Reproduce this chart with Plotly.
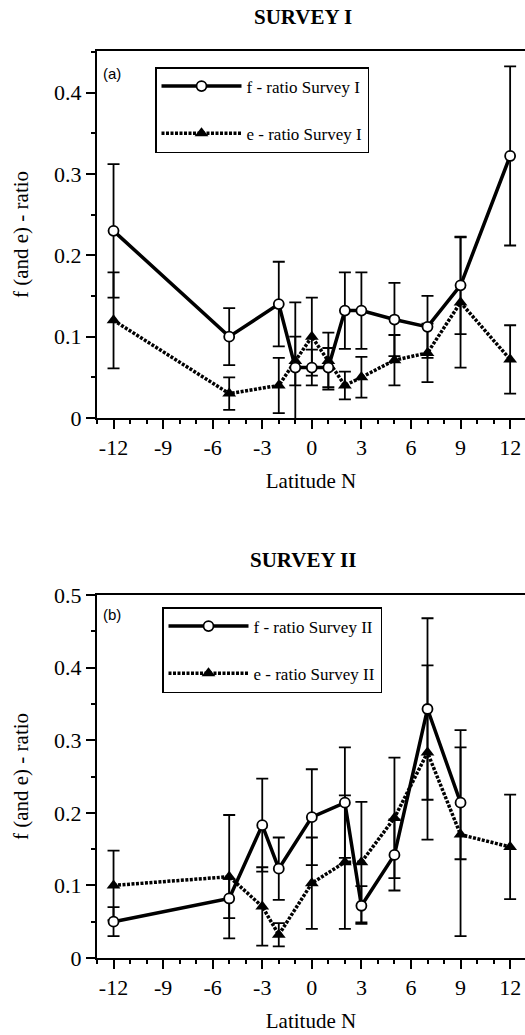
import plotly.graph_objects as go

# ---------------- Survey I ----------------
lat1 = [-12, -5, -2, -1, 0, 1, 2, 3, 5, 7, 9, 12]
f1 = [0.23, 0.10, 0.14, 0.062, 0.062, 0.062, 0.132, 0.132, 0.121, 0.112, 0.163, 0.322]
f1_err = [0.082, 0.035, 0.052, 0.08, 0.022, 0.024, 0.047, 0.047, 0.045, 0.038, 0.06, 0.11]
e1 = [0.12, 0.03, 0.04, 0.07, 0.10, 0.07, 0.04, 0.05, 0.071, 0.08, 0.142, 0.072]
e1_err = [0.059, 0.02, 0.034, 0.03, 0.048, 0.035, 0.017, 0.025, 0.031, 0.036, 0.08, 0.042]

# ---------------- Survey II ----------------
lat2_f = [-12, -5, -3, -2, 0, 2, 3, 5, 7, 9]
f2 = [0.05, 0.082, 0.183, 0.123, 0.194, 0.214, 0.072, 0.142, 0.343, 0.214]
f2_err_plus = [0.02, 0.027, 0.064, 0.043, 0.066, 0.076, 0.027, 0.049, 0.125, 0.10]
f2_err_minus = [0.02, 0.027, 0.064, 0.043, 0.066, 0.076, 0.025, 0.049, 0.125, 0.078]
lat2_e = [-12, -5, -3, -2, 0, 2, 3, 5, 7, 9, 12]
e2 = [0.10, 0.112, 0.071, 0.032, 0.103, 0.132, 0.132, 0.193, 0.283, 0.17, 0.153]
e2_err_plus = [0.048, 0.085, 0.054, 0.016, 0.063, 0.092, 0.083, 0.083, 0.12, 0.12, 0.072]
e2_err_minus = [0.048, 0.085, 0.054, 0.016, 0.063, 0.092, 0.083, 0.083, 0.12, 0.14, 0.072]

x_ticks = [-12, -9, -6, -3, 0, 3, 6, 9, 12]
x_ticktext = ["-12", "-9", "-6", "-3", "0", "3", "6", "9", "12"]
y1_ticks = [0, 0.1, 0.2, 0.3, 0.4]
y1_ticktext = ["0", "0.1", "0.2", "0.3", "0.4"]
y2_ticks = [0, 0.1, 0.2, 0.3, 0.4, 0.5]
y2_ticktext = ["0", "0.1", "0.2", "0.3", "0.4", "0.5"]
panel_titles = ["SURVEY I", "SURVEY II"]
panel_labels = ["(a)", "(b)"]
names = ["f - ratio Survey I", "e - ratio Survey I", "f - ratio Survey II", "e - ratio Survey II"]
x_title = "Latitude N"
y_title = "f (and e) - ratio"

W, H = 525, 1035
SERIF = "Times New Roman"

fig = go.Figure()

fig.add_trace(go.Scatter(
    x=lat1, y=e1, mode="lines+markers", name=names[1],
    line=dict(color="black", width=3.5, dash="3px,1.5px"),
    marker=dict(symbol="triangle-up", size=12, color="black"),
    error_y=dict(type="data", array=e1_err, color="black", thickness=1.8, width=6),
    xaxis="x", yaxis="y", legend="legend", legendgroup="e1", legendrank=2))
fig.add_trace(go.Scatter(
    x=lat1, y=f1, mode="lines+markers", name=names[0],
    line=dict(color="black", width=3.5),
    marker=dict(symbol="circle", size=10, color="white", line=dict(color="black", width=1.8)),
    error_y=dict(type="data", array=f1_err, color="black", thickness=1.8, width=6),
    xaxis="x", yaxis="y", legend="legend", legendgroup="f1", legendrank=1))
fig.add_trace(go.Scatter(
    x=lat2_e, y=e2, mode="lines+markers", name=names[3],
    line=dict(color="black", width=3.5, dash="3px,1.5px"),
    marker=dict(symbol="triangle-up", size=12, color="black"),
    error_y=dict(type="data", symmetric=False, array=e2_err_plus, arrayminus=e2_err_minus,
                 color="black", thickness=1.8, width=6),
    xaxis="x2", yaxis="y2", legend="legend2", legendgroup="e2", legendrank=2))
fig.add_trace(go.Scatter(
    x=lat2_f, y=f2, mode="lines+markers", name=names[2],
    line=dict(color="black", width=3.5),
    marker=dict(symbol="circle", size=10, color="white", line=dict(color="black", width=1.8)),
    error_y=dict(type="data", symmetric=False, array=f2_err_plus, arrayminus=f2_err_minus,
                 color="black", thickness=1.8, width=6),
    xaxis="x2", yaxis="y2", legend="legend2", legendgroup="f2", legendrank=1))

fig.update_layout(
    width=W, height=H, margin=dict(l=0, r=0, t=0, b=0),
    font=dict(family=SERIF, color="black"),
    paper_bgcolor="white", plot_bgcolor="white", showlegend=True,
    xaxis=dict(
        domain=[97 / W, 1], anchor="y", range=[-13, 12.9],
        tickmode="array", tickvals=x_ticks, ticktext=x_ticktext,
        tickfont=dict(family=SERIF, size=22, color="black"),
        ticks="outside", ticklen=9, tickwidth=1.5, tickcolor="black",
        showline=True, linewidth=2, linecolor="black", mirror=True,
        showgrid=False, zeroline=False,
        minor=dict(dtick=1, tick0=0, ticks="outside", ticklen=4),
        title=dict(text=x_title, font=dict(family=SERIF, size=21, color="black"), standoff=14),
        automargin=False),
    yaxis=dict(
        domain=[1 - 418 / H, 1 - 51 / H], anchor="x", range=[0, 0.451],
        tickmode="array", tickvals=y1_ticks, ticktext=y1_ticktext,
        tickfont=dict(family=SERIF, size=22, color="black"),
        ticks="outside", ticklen=9, tickwidth=1.5, tickcolor="black",
        showline=True, linewidth=2, linecolor="black",
        showgrid=False, zeroline=False,
        minor=dict(dtick=0.05, tick0=0, ticks="outside", ticklen=4),
        title=dict(text=y_title, font=dict(family=SERIF, size=21, color="black"), standoff=20),
        automargin=False),
    xaxis2=dict(
        domain=[97 / W, 1], anchor="y2", range=[-13, 12.9],
        tickmode="array", tickvals=x_ticks, ticktext=x_ticktext,
        tickfont=dict(family=SERIF, size=22, color="black"),
        ticks="outside", ticklen=9, tickwidth=1.5, tickcolor="black",
        showline=True, linewidth=2, linecolor="black", mirror=True,
        showgrid=False, zeroline=False,
        minor=dict(dtick=1, tick0=0, ticks="outside", ticklen=4),
        title=dict(text=x_title, font=dict(family=SERIF, size=21, color="black"), standoff=14),
        automargin=False),
    yaxis2=dict(
        domain=[1 - 958 / H, 1 - 595 / H], anchor="x2", range=[0, 0.5],
        tickmode="array", tickvals=y2_ticks, ticktext=y2_ticktext,
        tickfont=dict(family=SERIF, size=22, color="black"),
        ticks="outside", ticklen=9, tickwidth=1.5, tickcolor="black",
        showline=True, linewidth=2, linecolor="black",
        showgrid=False, zeroline=False,
        minor=dict(dtick=0.05, tick0=0, ticks="outside", ticklen=4),
        title=dict(text=y_title, font=dict(family=SERIF, size=21, color="black"), standoff=20),
        automargin=False),
    legend=dict(x=155 / W, y=1 - 67 / H, xanchor="left", yanchor="top", bgcolor="white",
                bordercolor="black", borderwidth=1.5, font=dict(family=SERIF, size=17, color="black"),
                traceorder="grouped", tracegroupgap=22, itemwidth=80),
    legend2=dict(x=162 / W, y=1 - 607 / H, xanchor="left", yanchor="top", bgcolor="white",
                 bordercolor="black", borderwidth=1.5, font=dict(family=SERIF, size=17, color="black"),
                 traceorder="grouped", tracegroupgap=22, itemwidth=80),
    annotations=[
        dict(text="<b>" + panel_titles[0] + "</b>", x=303 / W, y=1 - 17 / H, xref="paper", yref="paper",
             showarrow=False, font=dict(family=SERIF, size=21, color="black"),
             xanchor="center", yanchor="middle"),
        dict(text="<b>" + panel_titles[1] + "</b>", x=303 / W, y=1 - 560 / H, xref="paper", yref="paper",
             showarrow=False, font=dict(family=SERIF, size=21, color="black"),
             xanchor="center", yanchor="middle"),
        dict(text=panel_labels[0], x=101 / W, y=1 - 73 / H, xref="paper", yref="paper",
             showarrow=False, font=dict(family="Arial", size=15, color="black"),
             xanchor="left", yanchor="middle"),
        dict(text=panel_labels[1], x=101 / W, y=1 - 614 / H, xref="paper", yref="paper",
             showarrow=False, font=dict(family="Arial", size=15, color="black"),
             xanchor="left", yanchor="middle"),
    ],
)

fig.write_html("out.html")
